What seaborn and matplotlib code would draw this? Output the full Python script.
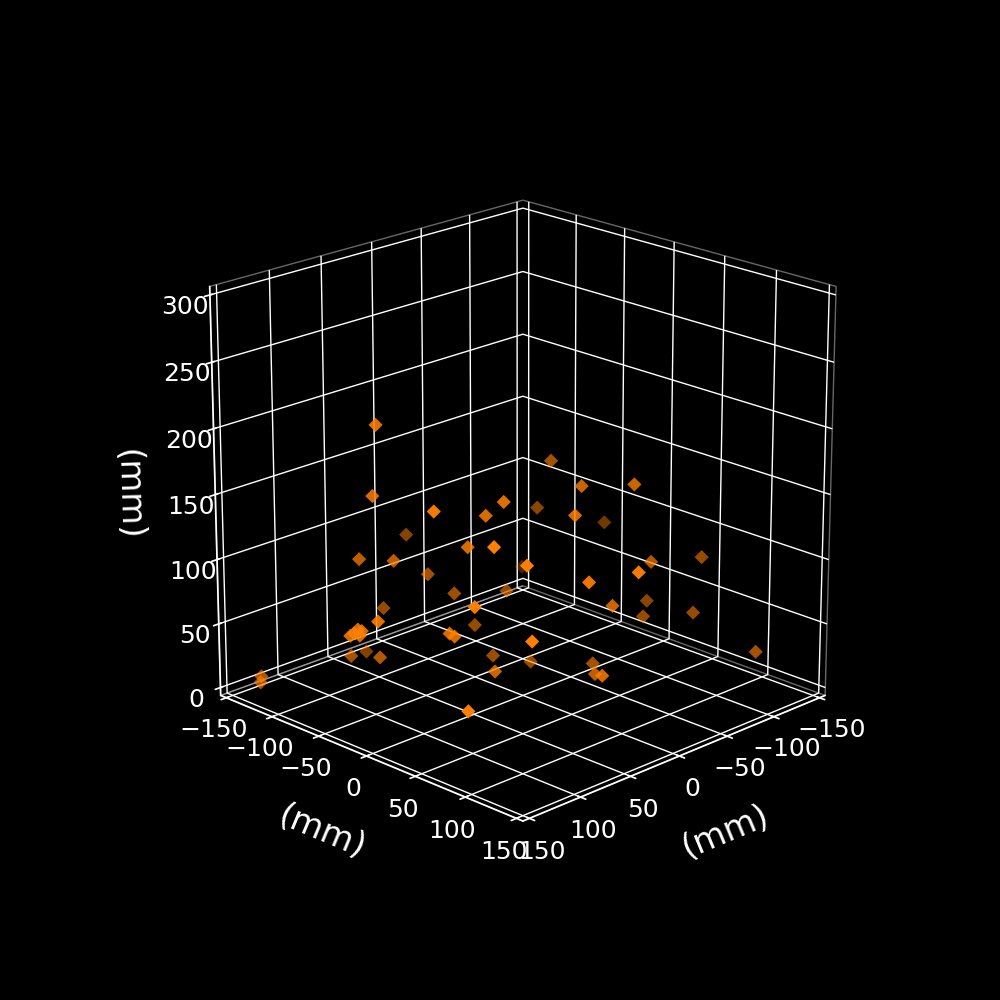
import matplotlib
matplotlib.use('Agg')
import matplotlib.pyplot as plt
import seaborn as sns

# positions in mm
x_mm = [110, 114, 124, 61, 59, -5, 99, 82, 75, 110, 33, 16, -146, 97, -22, 120, 45, 148, 0, 99, 97, 148, 148, 148, 148, 148, 87, 35, 89, 3, 66, 148, 148, 148, -50, -9, -36, -71, 16, -142, -130, -66, 35, 47, -112, -4, -115, -89, 107, -22, -36, 0, 30, -122]
y_mm = [-36, -36, 37, 24, 40, -128, -67, -49, 20, 82, -65, -55, -147, 101, -39, 73, -100, 5, -50, 26, 29, -24, -20, -16, -14, -12, -90, -130, -57, -28, 38, -120, -121, 95, -21, 50, 76, -56, 68, -55, 56, 65, 148, 112, 18, 86, 62, 36, 116, -14, 36, 73, 109, 118]
z_mm = [221, 169, 179, 156, 170, 84, 109, 108, 135, 161, 80, 63, 15, 149, 59, 117, 47, 95, 35, 78, 76, 76, 79, 83, 79, 83, 24, 1, 33, 18, 43, 17, 12, 54, 158, 167, 168, 107, 156, 77, 82, 98, 140, 126, 42, 87, 44, 41, 100, 10, 19, 32, 50, 27]
xy_ticks = [-150, -100, -50, 0, 50, 100, 150]
z_ticks = [0, 50, 100, 150, 200, 250, 300]

sns.set_theme(style='dark', rc={'figure.facecolor': 'black', 'axes.facecolor': 'black', 'text.color': 'white',
                                'xtick.color': 'white', 'ytick.color': 'white', 'axes.labelcolor': 'white',
                                'axes.edgecolor': 'white'})
fig = plt.figure(figsize=(10, 10), dpi=100)
ax = fig.add_subplot(projection='3d')
ax.view_init(elev=20, azim=45)
ax.set_xlim(-156.25, 156.25)
ax.set_ylim(-156.25, 156.25)
ax.set_zlim(-6.25, 306.25)
ax.set_xticks(xy_ticks)
ax.set_yticks(xy_ticks)
ax.set_zticks(z_ticks)
ax.set_box_aspect((1, 1, 1), zoom=0.95)
for a in (ax.xaxis, ax.yaxis, ax.zaxis):
    a.pane.fill = False
    a.pane.set_edgecolor('#cccccc')
    a.set_rotate_label(True)
    a._axinfo['grid']['color'] = 'white'
    a._axinfo['grid']['linewidth'] = 1.0

ax.scatter(x_mm, y_mm, z_mm, marker='D', s=52, color='#ff7f00', linewidths=0)
ax.tick_params(labelsize=18)
ax.set_xlabel('(mm)', fontsize=24, labelpad=20)
ax.set_ylabel('(mm)', fontsize=24, labelpad=20)
ax.set_zlabel('(mm)', fontsize=24, labelpad=20)
fig.savefig('out.png', dpi=100)
